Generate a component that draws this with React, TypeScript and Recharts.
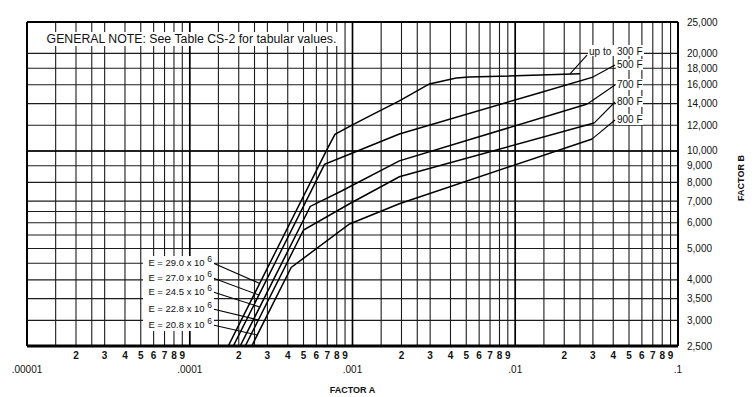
import {
  CartesianGrid,
  Line,
  LineChart,
  ReferenceDot,
  ReferenceLine,
  XAxis,
  YAxis
} from "recharts";

const FONT = '"Liberation Sans", Arial, Helvetica, sans-serif';
const INK = "#111";

// Factor A axis (log, 4 decades)
const decades = [0.00001, 0.0001, 0.001, 0.01];
const decadeLabels = [".00001", ".0001", ".001", ".01", ".1"];
const gridMultipliers = [1, 1.5, 2, 2.5, 3, 4, 5, 6, 7, 8, 9];
const digitMultipliers = [2, 3, 4, 5, 6, 7, 8, 9];
const lastDecade = 0.1;

// Factor B axis (log)
const bGrid = [2500, 3000, 3500, 4000, 4500, 5000, 5500, 6000, 6500, 7000, 8000, 9000, 10000, 12000, 14000, 16000, 18000, 20000, 25000];
const bLabelled = [2500, 3000, 3500, 4000, 5000, 6000, 7000, 8000, 9000, 10000, 12000, 14000, 16000, 18000, 20000, 25000];

// curves: factor A / factor B
const a300 = [0.0001724, 0.0007, 0.00078, 0.001, 0.00127, 0.00194, 0.00297, 0.00434, 0.0052, 0.025];
const b300 = [2500, 10150, 11250, 12030, 12800, 14270, 16100, 16780, 16900, 17300];
const a500 = [0.0001852, 0.000673, 0.001, 0.00194, 0.014, 0.03];
const b500 = [2500, 9090, 9850, 11280, 15100, 16900];
const a700 = [0.0002041, 0.00055, 0.000856, 0.00194, 0.0277];
const b700 = [2500, 6740, 7520, 9320, 13960];
const a800 = [0.0002193, 0.0005, 0.000959, 0.00194, 0.0305];
const b800 = [2500, 5700, 6870, 8320, 12190];
const a900 = [0.0002404, 0.00042, 0.000959, 0.00194, 0.0297];
const b900 = [2500, 4370, 5950, 6870, 10890];

const tempNames = ["300 F", "500 F", "700 F", "800 F", "900 F"];
const modulusNames = ["29.0", "27.0", "24.5", "22.8", "20.8"];
const noteText = "GENERAL NOTE: See Table CS-2 for tabular values.";

// leader lines to the temperature tags: [from A, from B, to A, to B]
const tempLeaders = [
  [0.0217, 17300, 0.0276, 19770],
  [0.03, 16900, 0.041, 18420],
  [0.0277, 13960, 0.041, 15980],
  [0.0305, 12190, 0.041, 14160],
  [0.0297, 10890, 0.041, 12460]
];
// leader lines from the E tags to the elastic part of the curves
const modulusLeaders = [
  [0.000139, 4511, 0.000269, 3900],
  [0.000139, 4053, 0.000266, 3590],
  [0.000139, 3670, 0.000269, 3300],
  [0.000139, 3252, 0.000264, 3008],
  [0.000139, 2903, 0.00026, 2703]
];
// centres of the white boxes behind the note and the E tags
const noteAnchor = { a: 0.0001025, b: 22150 };
const modulusBoxAnchor = { a: 0.0000853, b: 3630 };

const toRows = (a: number[], b: number[]) => a.map((x, i) => ({ a: x, b: b[i] }));
const curves = [
  toRows(a300, b300),
  toRows(a500, b500),
  toRows(a700, b700),
  toRows(a800, b800),
  toRows(a900, b900)
];

const xTicks: number[] = [];
const xTickText = new Map<number, { digit?: string; decade?: string }>();
decades.forEach((d, di) => {
  gridMultipliers.forEach((m) => {
    const v = Number((d * m).toPrecision(6));
    xTicks.push(v);
    if (m === 1) xTickText.set(v, { decade: decadeLabels[di] });
    else if (digitMultipliers.includes(m)) xTickText.set(v, { digit: String(m) });
  });
});
xTicks.push(lastDecade);
xTickText.set(lastDecade, { decade: decadeLabels[decadeLabels.length - 1] });

function FactorATick(props: any) {
  const { x, y, payload } = props;
  const t = xTickText.get(payload.value);
  if (!t) return <g />;
  if (t.decade)
    return (
      <text x={x} y={y + 27} textAnchor="middle" fontSize={10} fontFamily={FONT} fill={INK}>
        {t.decade}
      </text>
    );
  return (
    <text x={x} y={y + 13} textAnchor="middle" fontSize={10} fontWeight={700} fontFamily={FONT} fill={INK}>
      {t.digit}
    </text>
  );
}

function FactorBTick(props: any) {
  const { x, y, payload } = props;
  if (!bLabelled.includes(payload.value)) return <g />;
  return (
    <text x={x + 9} y={y} dy="0.35em" textAnchor="start" fontSize={10} fontFamily={FONT} fill={INK}>
      {payload.value.toLocaleString("en-US")}
    </text>
  );
}

function TempTag(props: any) {
  const { cx, cy, name, first } = props;
  if (first) {
    return (
      <g>
        <rect x={cx + 1} y={cy - 10} width={56} height={11} fill="#fff" />
        <text x={cx + 2} y={cy - 4} dy="0.35em" fontSize={10} fontFamily={FONT} fill={INK}>
          up to
        </text>
        <text x={cx + 30} y={cy - 4} dy="0.35em" fontSize={10} fontFamily={FONT} fill={INK}>
          {name}
        </text>
      </g>
    );
  }
  return (
    <g>
      <rect x={cx + 1} y={cy - 6} width={27} height={11} fill="#fff" />
      <text x={cx + 2} y={cy} dy="0.35em" fontSize={10} fontFamily={FONT} fill={INK}>
        {name}
      </text>
    </g>
  );
}

function ModulusTag(props: any) {
  const { cx, cy, value } = props;
  return (
    <text x={cx - 1} y={cy} dy="0.35em" textAnchor="end" fontSize={9.5} fontFamily={FONT} fill={INK}>
      {`E = ${value} x 10 `}
      <tspan dy={-4} fontSize={8.5}>6</tspan>
    </text>
  );
}

function NoteBox(props: any) {
  const { cx, cy } = props;
  return (
    <g>
      <rect x={cx - 149} y={cy - 7} width={298} height={14} fill="#fff" />
      <text x={cx} y={cy} dy="0.35em" textAnchor="middle" fontSize={12.3} fontFamily={FONT} fill={INK}>
        {noteText}
      </text>
    </g>
  );
}

function WhiteBox(props: any) {
  const { cx, cy, w, h } = props;
  return <rect x={cx - w / 2} y={cy - h / 2} width={w} height={h} fill="#fff" />;
}

export default function App() {
  return (
    <div style={{ position: "absolute", left: 0, top: 0, background: "#fff" }}>
      <LineChart width={754} height={397} margin={{ top: 22, right: 0, left: 27, bottom: 0 }}>
        <CartesianGrid stroke="#1c1c1c" strokeWidth={1.1} />
        <XAxis
          dataKey="a"
          type="number"
          scale="log"
          domain={[0.00001, 0.1]}
          allowDataOverflow
          ticks={xTicks}
          interval={0}
          height={51}
          tickSize={0}
          tickMargin={0}
          tickLine={false}
          axisLine={{ stroke: "#000", strokeWidth: 3 }}
          tick={FactorATick}
          label={{
            value: "FACTOR A",
            position: "insideBottom",
            offset: 4,
            fontSize: 9,
            fontWeight: 700,
            fill: INK,
            fontFamily: FONT
          }}
        />
        <YAxis
          dataKey="b"
          type="number"
          orientation="right"
          scale="log"
          domain={[2500, 25000]}
          allowDataOverflow
          ticks={bGrid}
          interval={0}
          width={76}
          tickSize={0}
          tickMargin={0}
          tickLine={false}
          axisLine={{ stroke: "#000", strokeWidth: 2 }}
          tick={FactorBTick}
          label={{
            content: (p: any) => {
              const vb = p.viewBox;
              const cx = vb.x + vb.width - 13;
              const cy = vb.y + vb.height / 2 - 6;
              return (
                <text
                  x={cx}
                  y={cy}
                  transform={`rotate(-90 ${cx} ${cy})`}
                  textAnchor="middle"
                  dy="0.35em"
                  fontSize={9}
                  fontWeight={700}
                  fontFamily={FONT}
                  fill={INK}
                >
                  FACTOR B
                </text>
              );
            }
          }}
        />

        {/* frame and heavier decade lines */}
        <ReferenceLine x={0.00001} stroke="#000" strokeWidth={2} />
        <ReferenceLine y={25000} stroke="#000" strokeWidth={2} />
        {decades.slice(1).map((d) => (
          <ReferenceLine key={d} x={d} stroke="#000" strokeWidth={1.6} />
        ))}
        <ReferenceLine y={10000} stroke="#000" strokeWidth={1.6} />

        {curves.map((rows, i) => (
          <Line
            key={tempNames[i]}
            data={rows}
            dataKey="b"
            type="linear"
            stroke="#000"
            strokeWidth={1.5}
            dot={false}
            activeDot={false}
            isAnimationActive={false}
          />
        ))}

        {tempLeaders.map((s, i) => (
          <ReferenceLine
            key={`tl${i}`}
            segment={[
              { x: s[0], y: s[1] },
              { x: s[2], y: s[3] }
            ]}
            stroke="#000"
            strokeWidth={1.1}
            ifOverflow="visible"
          />
        ))}
        {modulusLeaders.map((s, i) => (
          <ReferenceLine
            key={`ml${i}`}
            segment={[
              { x: s[0], y: s[1] },
              { x: s[2], y: s[3] }
            ]}
            stroke="#000"
            strokeWidth={1.1}
            ifOverflow="visible"
          />
        ))}

        <ReferenceDot
          x={noteAnchor.a}
          y={noteAnchor.b}
          ifOverflow="visible"
          shape={(p: any) => <NoteBox cx={p.cx} cy={p.cy} />}
        />
        <ReferenceDot
          x={modulusBoxAnchor.a}
          y={modulusBoxAnchor.b}
          ifOverflow="visible"
          shape={(p: any) => <WhiteBox cx={p.cx} cy={p.cy} w={71} h={75} />}
        />

        {tempLeaders.map((s, i) => (
          <ReferenceDot
            key={`tt${i}`}
            x={s[2]}
            y={s[3]}
            ifOverflow="visible"
            shape={(p: any) => <TempTag cx={p.cx} cy={p.cy} name={tempNames[i]} first={i === 0} />}
          />
        ))}
        {modulusLeaders.map((s, i) => (
          <ReferenceDot
            key={`mt${i}`}
            x={s[0]}
            y={s[1]}
            ifOverflow="visible"
            shape={(p: any) => <ModulusTag cx={p.cx} cy={p.cy} value={modulusNames[i]} />}
          />
        ))}
      </LineChart>
    </div>
  );
}
